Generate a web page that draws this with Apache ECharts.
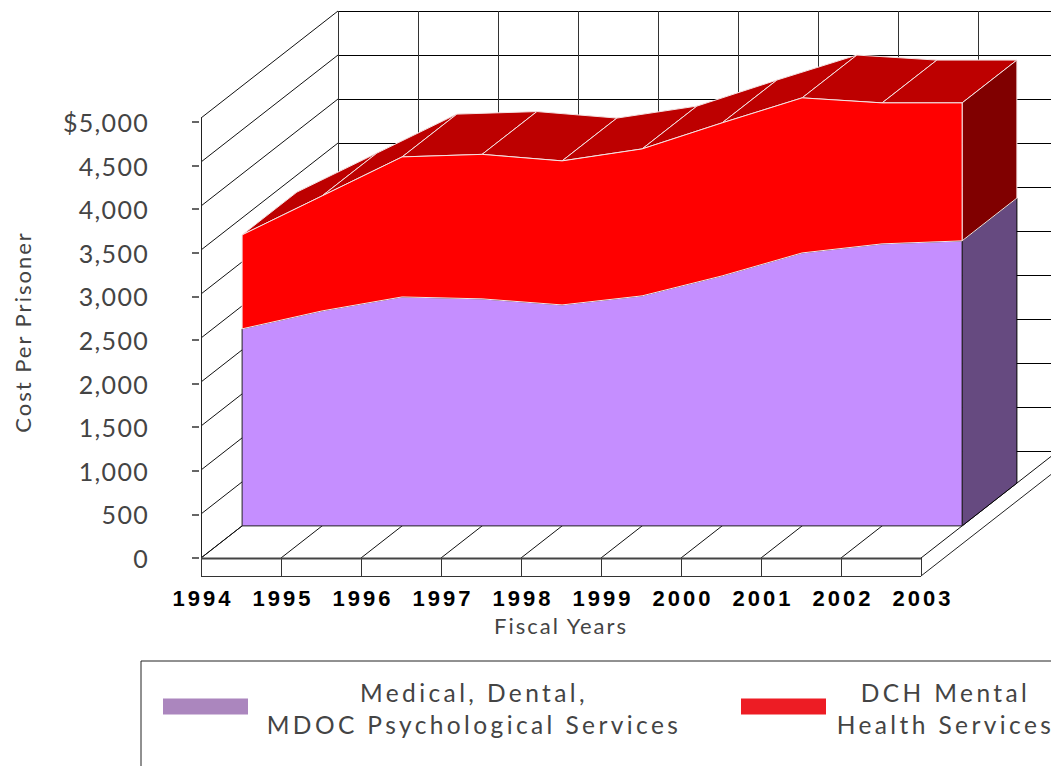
<!DOCTYPE html>
<html>
<head>
<meta charset="utf-8">
<style>
  html, body { margin: 0; padding: 0; background: #fff; overflow: hidden; }
  #chart { width: 1051px; height: 766px; }
  /* the original is set with wide tracking */
  #chart text { letter-spacing: 2px; }
  #chart text[style*="Liberation"] { letter-spacing: 3px; }
  #chart text[style*="24.5px"] { letter-spacing: 3.4px; }
  #chart text[style*="25px"] { letter-spacing: 1.3px; }
</style>
<script src="https://cdn.jsdelivr.net/npm/echarts@6/dist/echarts.min.js"></script>
</head>
<body>
<div id="chart"></div>
<script>
const years = ['1994', '1995', '1996', '1997', '1998', '1999', '2000', '2001', '2002', '2003'];
const yTicks = [0, 500, 1000, 1500, 2000, 2500, 3000, 3500, 4000, 4500, 5000];
const yTickLabels = ['0', '500', '1,000', '1,500', '2,000', '2,500', '3,000', '3,500', '4,000', '4,500', '$5,000'];
const medicalCost = [2239, 2443, 2602, 2580, 2511, 2614, 2841, 3102, 3205, 3239];
const mentalCost = [1068, 1307, 1591, 1642, 1637, 1670, 1739, 1762, 1602, 1568];

const medicalName = 'Medical, Dental,\nMDOC Psychological Services';
const mentalName = 'DCH Mental\nHealth Services';

// stacked tops of the two bands
const totalCost = medicalCost.map((v, i) => v + mentalCost[i]);

// oblique projection: how far the full depth of the box moves a point on screen
const DEPTH_X = 137;
const DEPTH_Y = 107;
// where the area slab sits inside the box depth
const NEAR = 0.3;
const FAR = 0.7;
const STRIP = 18;

const LAST = years.length - 1;
const chart = echarts.init(document.getElementById('chart'), null, { renderer: 'svg' });

function projector(api) {
  return (i, v, d) => {
    const p = api.coord([i, v]);
    return [p[0] + DEPTH_X * d, p[1] - DEPTH_Y * d];
  };
}

function line(a, b, color, width) {
  // keep straight rules on the pixel grid
  const dx = a[0] === b[0] ? 0.5 : 0;
  const dy = a[1] === b[1] ? 0.5 : 0;
  return {
    type: 'line',
    shape: { x1: a[0] + dx, y1: a[1] + dy, x2: b[0] + dx, y2: b[1] + dy },
    style: { stroke: color || '#111', lineWidth: width || 1 },
    silent: true
  };
}

function poly(points, fill, stroke) {
  return {
    type: 'polygon',
    shape: { points: points },
    style: { fill: fill, stroke: stroke, lineWidth: 1 },
    silent: true
  };
}

// back wall, left wall, floor and the front strip
function renderBox(params, api) {
  const at = projector(api);
  const children = [];
  yTicks.forEach((v) => {
    children.push(line(at(0, v, 0), at(0, v, 1)));
    children.push(line(at(0, v, 1), at(LAST, v, 1), '#000'));
  });
  years.forEach((y, i) => {
    children.push(line(at(i, 0, 0), at(i, 0, 1)));
    children.push(line(at(i, 0, 1), at(i, 5000, 1), '#333'));
    const front = at(i, 0, 0);
    children.push(line(front, [front[0], front[1] + STRIP], '#333'));
  });
  const left = at(0, 0, 0);
  const right = at(LAST, 0, 0);
  const back = at(LAST, 0, 1);
  children.push(line(left, at(0, 5000, 0), '#222'));
  children.push(line(left, right, '#444', 2));
  children.push(line([left[0], left[1] + STRIP], [right[0], right[1] + STRIP], '#333'));
  children.push(line([right[0], right[1] + STRIP], [back[0], back[1] + STRIP], '#222'));
  return { type: 'group', children: children };
}

function renderMedical(params, api) {
  if (params.dataIndex !== LAST) return null;
  const at = projector(api);
  const front = years.map((y, i) => at(i, medicalCost[i], NEAR));
  front.push(at(LAST, 0, NEAR), at(0, 0, NEAR));
  const side = [at(LAST, medicalCost[LAST], NEAR), at(LAST, medicalCost[LAST], FAR), at(LAST, 0, FAR), at(LAST, 0, NEAR)];
  return { type: 'group', children: [poly(side, '#664A80', '#000'), poly(front, '#C58EFF', '#222')] };
}

function renderMental(params, api) {
  const at = projector(api);
  const i = params.dataIndex;
  const children = [];
  if (i < LAST) {
    children.push(poly([at(i, totalCost[i], NEAR), at(i + 1, totalCost[i + 1], NEAR), at(i + 1, totalCost[i + 1], FAR), at(i, totalCost[i], FAR)], '#BD0000', '#F4E4E4'));
  } else {
    const side = [at(LAST, totalCost[LAST], NEAR), at(LAST, totalCost[LAST], FAR), at(LAST, medicalCost[LAST], FAR), at(LAST, medicalCost[LAST], NEAR)];
    const front = years.map((y, k) => at(k, totalCost[k], NEAR));
    for (let k = LAST; k >= 0; k--) front.push(at(k, medicalCost[k], NEAR));
    children.push(poly(side, '#800000', '#F4E4E4'), poly(front, '#FF0000', '#F4E4E4'));
  }
  return { type: 'group', children: children };
}

const legendLabel = (name) => {
  const style = name === medicalName ? 'wide' : 'narrow';
  return name.split('\n').map((l) => '{' + style + '|' + l + '}').join('\n');
};

const option = {
  animation: false,
  backgroundColor: '#fff',
  grid: [
    // the box
    { left: 201, top: 118, width: 720, height: 440, outerBoundsMode: 'none' },
    // the printed scale sits a little tighter than the box
    { left: 201, top: 122, width: 720, height: 436, outerBoundsMode: 'none' }
  ],
  xAxis: [
    { type: 'category', gridIndex: 0, data: years, boundaryGap: false, show: false },
    {
      type: 'category', gridIndex: 1, data: years, boundaryGap: false,
      axisLine: { show: false },
      axisTick: { show: false },
      axisLabel: { interval: 0, margin: 29, color: '#000', fontSize: 22, fontWeight: 'bold', fontFamily: 'Liberation Sans', padding: [0, 0, 0, 4] },
      name: 'Fiscal Years',
      nameLocation: 'middle',
      nameGap: 56,
      nameTextStyle: { color: '#444', fontSize: 22, fontFamily: 'Lato' }
    }
  ],
  yAxis: [
    { type: 'value', gridIndex: 0, min: 0, max: 5000, show: false },
    {
      type: 'value', gridIndex: 1, min: 0, max: 5000, interval: 500, offset: 2,
      splitLine: { show: false },
      axisLine: { show: false },
      axisTick: { show: true, length: 7, lineStyle: { color: '#333', width: 1.5 } },
      axisLabel: {
        margin: 50, color: '#444', fontSize: 25, fontFamily: 'Lato', padding: [0, 0, 10, 0],
        formatter: (v) => yTickLabels[yTicks.indexOf(v)]
      },
      name: 'Cost Per Prisoner',
      nameLocation: 'middle',
      nameGap: 166,
      nameTextStyle: { color: '#444', fontSize: 22, fontFamily: 'Lato', padding: [0, 0, 0, 16] }
    }
  ],
  legend: {
    left: 141,
    top: 661,
    width: 1000,
    padding: [19, 30, 80, 22],
    itemWidth: 85,
    itemHeight: 16,
    itemGap: 46,
    selectedMode: false,
    borderColor: '#222',
    borderWidth: 1,
    formatter: legendLabel,
    textStyle: {
      padding: [4, 0, 0, 0],
      rich: {
        wide: { width: 442, align: 'center', lineHeight: 32, fontSize: 24.5, fontFamily: 'Lato', color: '#444' },
        narrow: { width: 229, align: 'center', lineHeight: 32, fontSize: 24.5, fontFamily: 'Lato', color: '#444' }
      }
    },
    data: [
      { name: medicalName, icon: 'rect', itemStyle: { color: '#AB86BE' } },
      { name: mentalName, icon: 'rect', itemStyle: { color: '#ED1C24' } }
    ]
  },
  series: [
    { type: 'custom', xAxisIndex: 0, yAxisIndex: 0, data: [0], renderItem: renderBox, silent: true },
    { type: 'custom', name: medicalName, xAxisIndex: 0, yAxisIndex: 0, data: medicalCost.map((v, i) => [i, v]), renderItem: renderMedical, silent: true, itemStyle: { color: '#C58EFF' } },
    { type: 'custom', name: mentalName, xAxisIndex: 0, yAxisIndex: 0, data: totalCost.map((v, i) => [i, v]), renderItem: renderMental, silent: true, itemStyle: { color: '#FF0000' } }
  ]
};

chart.setOption(option);
</script>
</body>
</html>
